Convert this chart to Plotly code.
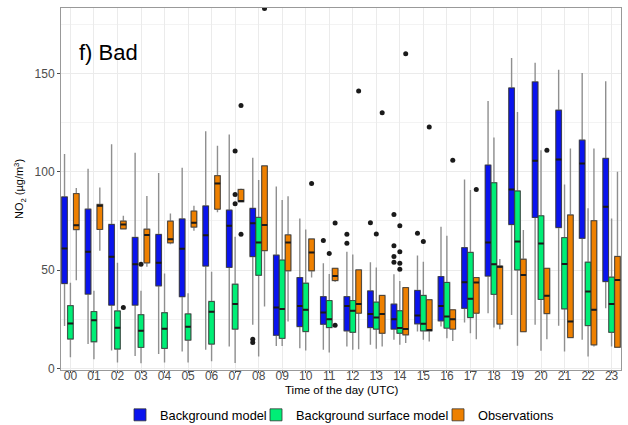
import plotly.graph_objects as go

hours = [f"{h:02d}" for h in range(24)]

# Background model
bg_low = [21.6, 12.4, 9.1, 6.3, 7.4, 8.6, 9.5, 11.2, 22.2, 11.4, 10.3, 9.5,
          11.2, 12.0, 14.6, 18.8, 21.3, 23.4, 28.1, 27.2, 22.2, 21.7, 14.6, 30.6]
bg_q1 = [43.2, 37.8, 32.2, 32.2, 42.0, 36.5, 52.1, 51.4, 56.9, 16.9, 21.3, 22.5,
         19.1, 20.8, 20.0, 22.7, 24.2, 30.6, 47.0, 73.2, 76.8, 71.7, 66.2, 44.2]
bg_med = [61.0, 59.3, 56.8, 53.0, 53.7, 60.9, 67.7, 72.6, 73.8, 31.0, 31.8, 28.4,
          31.8, 27.7, 25.0, 26.9, 31.8, 43.8, 64.1, 91.0, 105.6, 106.3, 104.2, 82.2]
bg_q3 = [87.2, 81.0, 73.2, 66.6, 68.1, 76.0, 82.6, 80.5, 81.4, 57.6, 46.2, 36.5,
         36.5, 39.4, 32.7, 39.6, 46.7, 61.4, 103.4, 142.6, 145.7, 131.3, 116.1, 106.8]
bg_high = [109.0, 101.6, 114.0, 109.7, 99.4, 102.0, 120.6, 119.0, 107.1, 92.5, 76.3, 53.5,
           59.4, 54.0, 47.9, 57.4, 72.1, 96.1, 136.0, 157.9, 155.5, 151.9, 150.3, 146.0]
bg_out_hour = [8, 8, 11, 12, 12, 13, 14, 14, 14, 14, 15]
bg_out_val = [14.9, 13.2, 65.0, 68.2, 63.6, 74.1, 78.3, 62.4, 56.9, 54.0, 68.7]

# Background surface model
sf_low = [5.7, 4.7, 3.0, 2.6, 3.0, 3.0, 3.6, 2.7, 6.1, 11.4, 9.1, 8.1,
          9.5, 10.0, 12.0, 14.6, 15.4, 17.9, 20.8, 11.5, 9.0, 8.6, 6.1, 11.2]
sf_q1 = [15.0, 13.6, 9.9, 10.7, 10.2, 14.4, 12.4, 20.0, 47.4, 15.3, 18.8, 20.8,
         18.4, 20.0, 17.9, 19.1, 20.5, 25.9, 37.7, 50.1, 35.1, 30.3, 21.8, 18.4]
sf_med = [22.9, 24.5, 20.7, 19.2, 20.2, 21.2, 28.8, 32.8, 64.1, 30.2, 29.8, 25.0,
          29.3, 25.9, 20.5, 22.7, 26.4, 35.4, 53.0, 64.5, 63.5, 53.1, 39.1, 32.8]
sf_q3 = [31.9, 28.9, 29.2, 27.3, 28.3, 27.7, 34.0, 42.8, 76.8, 55.1, 43.3, 34.5,
         34.5, 33.7, 29.3, 37.1, 43.7, 59.0, 94.4, 90.2, 77.6, 66.5, 54.0, 46.4]
sf_high = [43.6, 39.5, 53.7, 39.5, 48.3, 38.2, 49.2, 67.0, 95.8, 85.6, 70.7, 48.0,
           58.0, 51.3, 44.5, 54.3, 67.5, 90.7, 117.4, 130.4, 110.9, 93.6, 81.4, 76.3]
sf_out_hour = [3, 7, 7, 7, 11, 13, 14, 14, 14, 14, 15]
sf_out_val = [53.0, 110.6, 88.5, 83.8, 58.5, 68.4, 72.6, 59.4, 53.5, 50.4, 64.5]

# Observations
ob_low = [44.9, 59.8, 70.6, 51.7, 63.2, 70.0, 79.4, 84.5, 31.5, 23.9, 46.2, 44.0,
          9.8, 11.2, 12.9, 13.7, 14.0, 14.9, 19.9, 18.7, 14.8, 15.7, 11.2, 10.8]
ob_q1 = [70.6, 70.7, 71.0, 53.7, 63.9, 71.9, 81.0, 84.8, 59.9, 49.7, 49.7, 44.7,
         28.1, 17.9, 17.1, 19.1, 20.0, 28.1, 22.6, 18.7, 27.9, 15.7, 12.0, 10.8]
ob_med = [72.8, 82.7, 73.2, 67.8, 65.7, 74.1, 94.1, 85.1, 72.9, 64.0, 59.0, 47.0,
          32.8, 27.7, 20.0, 19.6, 25.0, 43.7, 51.7, 47.5, 37.0, 23.9, 29.8, 45.0]
ob_q3 = [88.9, 83.4, 74.9, 70.8, 74.9, 80.0, 98.0, 91.0, 103.0, 67.9, 65.8, 50.9,
         50.1, 37.1, 41.1, 34.9, 29.8, 46.2, 52.0, 55.5, 50.9, 78.0, 75.1, 56.9]
ob_high = [91.8, 92.0, 77.7, 87.7, 78.8, 82.7, 113.2, 91.5, 103.0, 87.6, 65.8, 51.0,
           50.1, 37.1, 41.1, 34.9, 29.8, 46.2, 55.6, 70.4, 50.9, 111.8, 111.8, 100.0]
ob_out_hour = [2, 7, 7, 8, 10, 11, 11, 12, 13, 14, 15, 16, 17, 20]
ob_out_val = [31.0, 133.7, 68.3, 183.0, 94.1, 74.0, 22.0, 141.1, 130.0, 160.0, 122.8, 105.9, 91.0, 111.0]

series = [
    ("Background model", "#0a14ee", -0.25, "legend",
     bg_low, bg_q1, bg_med, bg_q3, bg_high, bg_out_hour, bg_out_val),
    ("Background surface model", "#00ee76", 0.0, "legend2",
     sf_low, sf_q1, sf_med, sf_q3, sf_high, sf_out_hour, sf_out_val),
    ("Observations", "#ee8000", 0.25, "legend3",
     ob_low, ob_q1, ob_med, ob_q3, ob_high, ob_out_hour, ob_out_val),
]

BOX_W = 0.235
FONT = "Liberation Sans, Arial, sans-serif"
fig = go.Figure()

# whiskers (gray) behind the boxes
for name, color, off, leg, lo, q1, med, q3, hi, oh, ov in series:
    xs = [i + off for i in range(24)]
    fig.add_trace(go.Box(x=xs, q1=q1, median=med, q3=q3, lowerfence=lo, upperfence=hi,
                         width=BOX_W, whiskerwidth=0, fillcolor=color,
                         line=dict(color="#8f8f8f", width=1.4), boxpoints=False,
                         showlegend=False, hoverinfo="skip"))

# filled boxes with dark outline
for name, color, off, leg, lo, q1, med, q3, hi, oh, ov in series:
    xs = [i + off for i in range(24)]
    fig.add_trace(go.Box(x=xs, q1=q1, median=med, q3=q3, lowerfence=q1, upperfence=q3,
                         width=BOX_W, whiskerwidth=0, fillcolor=color, name=name,
                         line=dict(color="#333333", width=0.8), boxpoints=False,
                         showlegend=True, legend=leg, hoverinfo="skip"))

# thick median bars
for name, color, off, leg, lo, q1, med, q3, hi, oh, ov in series:
    xs = [i + off for i in range(24)]
    fig.add_trace(go.Box(x=xs, q1=med, median=med, q3=med, lowerfence=med, upperfence=med,
                         width=BOX_W, whiskerwidth=0, fillcolor="rgba(0,0,0,0)",
                         line=dict(color="#1a1a1a", width=2), boxpoints=False,
                         showlegend=False, hoverinfo="skip"))

# outliers
for name, color, off, leg, lo, q1, med, q3, hi, oh, ov in series:
    fig.add_trace(go.Scatter(x=[h + off for h in oh], y=ov, mode="markers",
                             marker=dict(color="#1a1a1a", size=5),
                             showlegend=False, hoverinfo="skip"))

fig.add_annotation(text="f) Bad", xref="paper", yref="paper", x=0.028, y=0.878,
                   xanchor="left", yanchor="middle", showarrow=False,
                   font=dict(family=FONT, size=22, color="black"))

# x-axis title, set close under the hour labels
fig.add_annotation(text="Time of the day (UTC)", xref="paper", yref="paper",
                   x=0.5, y=-0.056, xanchor="center", yanchor="middle", showarrow=False,
                   font=dict(family=FONT, size=11.5, color="black"))


def legend_box(left_px):
    return dict(orientation="h", xref="container", yref="container",
                x=left_px / 628, xanchor="left", y=10 / 425, yanchor="middle",
                font=dict(family=FONT, size=12.8, color="black"),
                bgcolor="rgba(0,0,0,0)", borderwidth=0, itemwidth=30)


fig.update_layout(
    width=628, height=425,
    margin=dict(l=61, r=7, t=8, b=55, autoexpand=False),
    paper_bgcolor="white", plot_bgcolor="white",
    boxmode="overlay",
    font=dict(family=FONT, size=11, color="#4d4d4d"),
    legend=legend_box(120),
    legend2=legend_box(256),
    legend3=legend_box(438),
    xaxis=dict(range=[-0.4, 23.4], tickmode="array", tickvals=list(range(24)), ticktext=hours,
               automargin=False,
               showgrid=True, gridcolor="#ebebeb", gridwidth=1, zeroline=False,
               showline=True, linecolor="#999999", linewidth=1, mirror=True,
               ticks="outside", ticklen=2, tickcolor="#4d4d4d", ticklabelstandoff=-7,
               tickfont=dict(family=FONT, size=12, color="#4d4d4d")),
    yaxis=dict(range=[-0.8, 183.3], tickmode="array", tickvals=[0, 50, 100, 150],
               automargin=False,
               showgrid=True, gridcolor="#ebebeb", gridwidth=1, zeroline=False,
               minor=dict(tickvals=[25, 75, 125, 175], showgrid=True, gridcolor="#f3f3f3", ticks=""),
               showline=True, linecolor="#999999", linewidth=1, mirror=True,
               ticks="outside", ticklen=3, tickcolor="#4d4d4d",
               tickfont=dict(family=FONT, size=12, color="#4d4d4d"),
               title=dict(text="NO<sub>2</sub> (µg/m<sup>3</sup>)", standoff=8,
                          font=dict(family=FONT, size=11, color="black"))),
)

fig.write_html("out.html")
